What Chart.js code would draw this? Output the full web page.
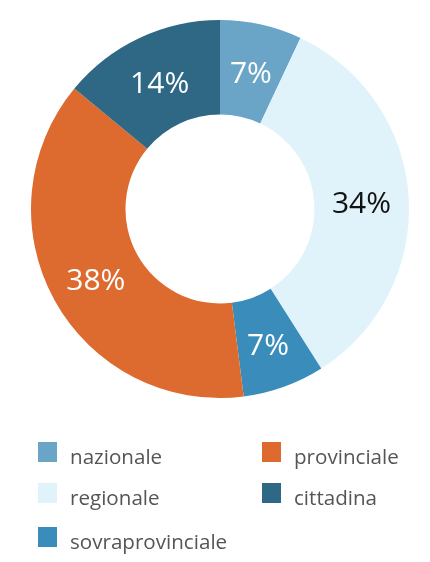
<!DOCTYPE html>
<html>
<head>
<meta charset="utf-8">
<script src="https://cdn.jsdelivr.net/npm/chart.js@4"></script>
<style>
  html, body { margin: 0; padding: 0; background: #fff; width: 430px; height: 562px; overflow: hidden; }
  #wrap { position: absolute; left: 0; top: 0; width: 430px; height: 420px; }
  #legend { position: absolute; left: 0; top: 0; width: 430px; height: 562px; pointer-events: none; }
  .item { position: absolute; font-family: "Open Sans", sans-serif; font-size: 20.6px; color: #555; line-height: 20px; white-space: nowrap; }
  .box { position: absolute; width: 19px; height: 20px; }
</style>
</head>
<body>
<div id="wrap"><canvas id="c" width="430" height="420"></canvas></div>
<div id="legend"></div>
<script>
const categories = ["nazionale", "regionale", "sovraprovinciale", "provinciale", "cittadina"];
const values = [7, 34, 7, 38, 14];
const colors = ["#6aa5c8", "#e0f3fb", "#3a8dbb", "#dd6b2f", "#2e6885"];
const labelColors = ["#ffffff", "#111111", "#ffffff", "#ffffff", "#ffffff"];

const labelPlugin = {
  id: "sliceLabels",
  afterDatasetsDraw(chart) {
    const ctx = chart.ctx;
    const meta = chart.getDatasetMeta(0);
    const total = values.reduce((a, b) => a + b, 0);
    ctx.save();
    ctx.font = "30px 'Open Sans', sans-serif";
    ctx.textAlign = "center";
    ctx.textBaseline = "middle";
    meta.data.forEach((arc, i) => {
      const p = arc.tooltipPosition();
      ctx.fillStyle = labelColors[i];
      ctx.fillText(Math.round(values[i] / total * 100) + "%", p.x, p.y + 4);
    });
    ctx.restore();
  }
};

new Chart(document.getElementById("c"), {
  type: "doughnut",
  data: {
    labels: categories,
    datasets: [{ data: values, backgroundColor: colors, borderWidth: 0, hoverOffset: 0 }]
  },
  options: {
    responsive: false,
    animation: false,
    cutout: "50%",
    layout: { padding: { left: 31, right: 21, top: 20, bottom: 22 } },
    plugins: { legend: { display: false }, tooltip: { enabled: false } }
  },
  plugins: [labelPlugin]
});

// legend, column-major: 3 rows per column
const legend = document.getElementById("legend");
const colX = [38, 262];
const rowY = [442, 483, 527];
categories.forEach((name, i) => {
  const col = Math.floor(i / 3), row = i % 3;
  const box = document.createElement("div");
  box.className = "box";
  box.style.left = colX[col] + "px";
  box.style.top = rowY[row] + "px";
  box.style.background = colors[i];
  legend.appendChild(box);
  const t = document.createElement("div");
  t.className = "item";
  t.style.left = (colX[col] + 32) + "px";
  t.style.top = (rowY[row] + 4) + "px";
  t.textContent = name;
  legend.appendChild(t);
});
</script>
</body>
</html>
